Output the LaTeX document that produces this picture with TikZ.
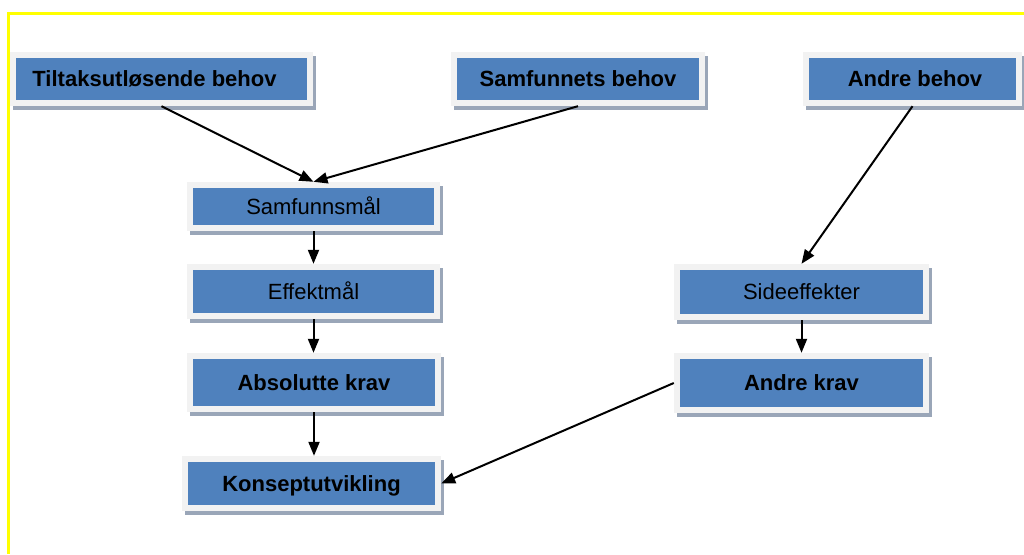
\documentclass[tikz,border=0pt]{standalone}
\usepackage{fontspec}
\setmainfont{Liberation Sans}
\usetikzlibrary{arrows.meta,calc}
\definecolor{boxblue}{HTML}{4F81BD}
\definecolor{boxgray}{HTML}{F2F2F2}
\definecolor{shadowc}{HTML}{9AA6B8}
\definecolor{framey}{HTML}{FFFF00}
\tikzset{
  block/.style={
    fill=boxgray, draw=none, inner sep=0pt, anchor=center,
    text height=15.8pt, text depth=0pt,
    font=\fontsize{22}{24}\selectfont,
    preaction={fill=shadowc, transform canvas={xshift=2.5pt,yshift=-3.5pt}},
    path picture={\fill[boxblue]
      ($(path picture bounding box.north west)+(6,6)$) rectangle
      ($(path picture bounding box.south east)+(-6,-6)$);}
  },
  boldblock/.style={block, font=\fontsize{22}{24}\selectfont\bfseries},
  link/.style={draw=black, line width=2pt, -{Triangle[length=14pt,width=11pt]}},
  frame/.style={draw=framey, line width=3pt}
}
\begin{document}
\begin{tikzpicture}[x=1pt,y=-1pt]
  \useasboundingbox (0,0) rectangle (1024,554);
  \fill[white] (0,0) rectangle (1024,554);
  % yellow page frame (top and left edges)
  \coordinate (fbl) at (8.5,554);
  \coordinate (ftl) at (8.5,13);
  \coordinate (ftr) at (1024,13);
  \draw[frame] (fbl) -- (ftl) -- (ftr);

  % needs
  \node[boldblock, minimum width=303pt, minimum height=54pt] (tb) at (161.5,79) {Tiltaksutløsende behov\hspace*{14pt}};
  \node[boldblock, minimum width=254pt, minimum height=54pt] (sb) at (578,79) {Samfunnets behov};
  \node[boldblock, minimum width=219pt, minimum height=54pt] (ab) at (912.5,79) {\hspace*{5pt}Andre behov};

  % goals and requirements, left column
  \node[block, minimum width=253pt, minimum height=49pt] (sm) at (313.5,206.5) {Samfunnsmål};
  \node[block, minimum width=253pt, minimum height=55pt] (em) at (313.5,291.5) {Effektmål};
  \node[boldblock, minimum width=254pt, minimum height=59pt] (ak) at (314,382.5) {Absolutte krav};
  \node[boldblock, minimum width=259pt, minimum height=55pt] (ku) at (311.5,483.5) {Konseptutvikling};

  % right column
  \node[block, minimum width=255pt, minimum height=56pt] (se) at (801.5,292) {Sideeffekter};
  \node[boldblock, minimum width=255pt, minimum height=60pt] (ar) at (801.5,383) {Andre krav};

  % connectors
  \draw[link] (tb.south) -- (sm.north);
  \draw[link] (sb.south) -- (sm.north);
  \draw[link] (ab.south) -- (se.north);
  \draw[link] (sm.south) -- (sm.south |- em.north);
  \draw[link] (em.south) -- (em.south |- ak.north);
  \draw[link] (ak.south) -- (ak.south |- ku.north);
  \draw[link] (se.south) -- (se.south |- ar.north);
  \draw[link] (ar.west) -- (ku.east);
\end{tikzpicture}
\end{document}
